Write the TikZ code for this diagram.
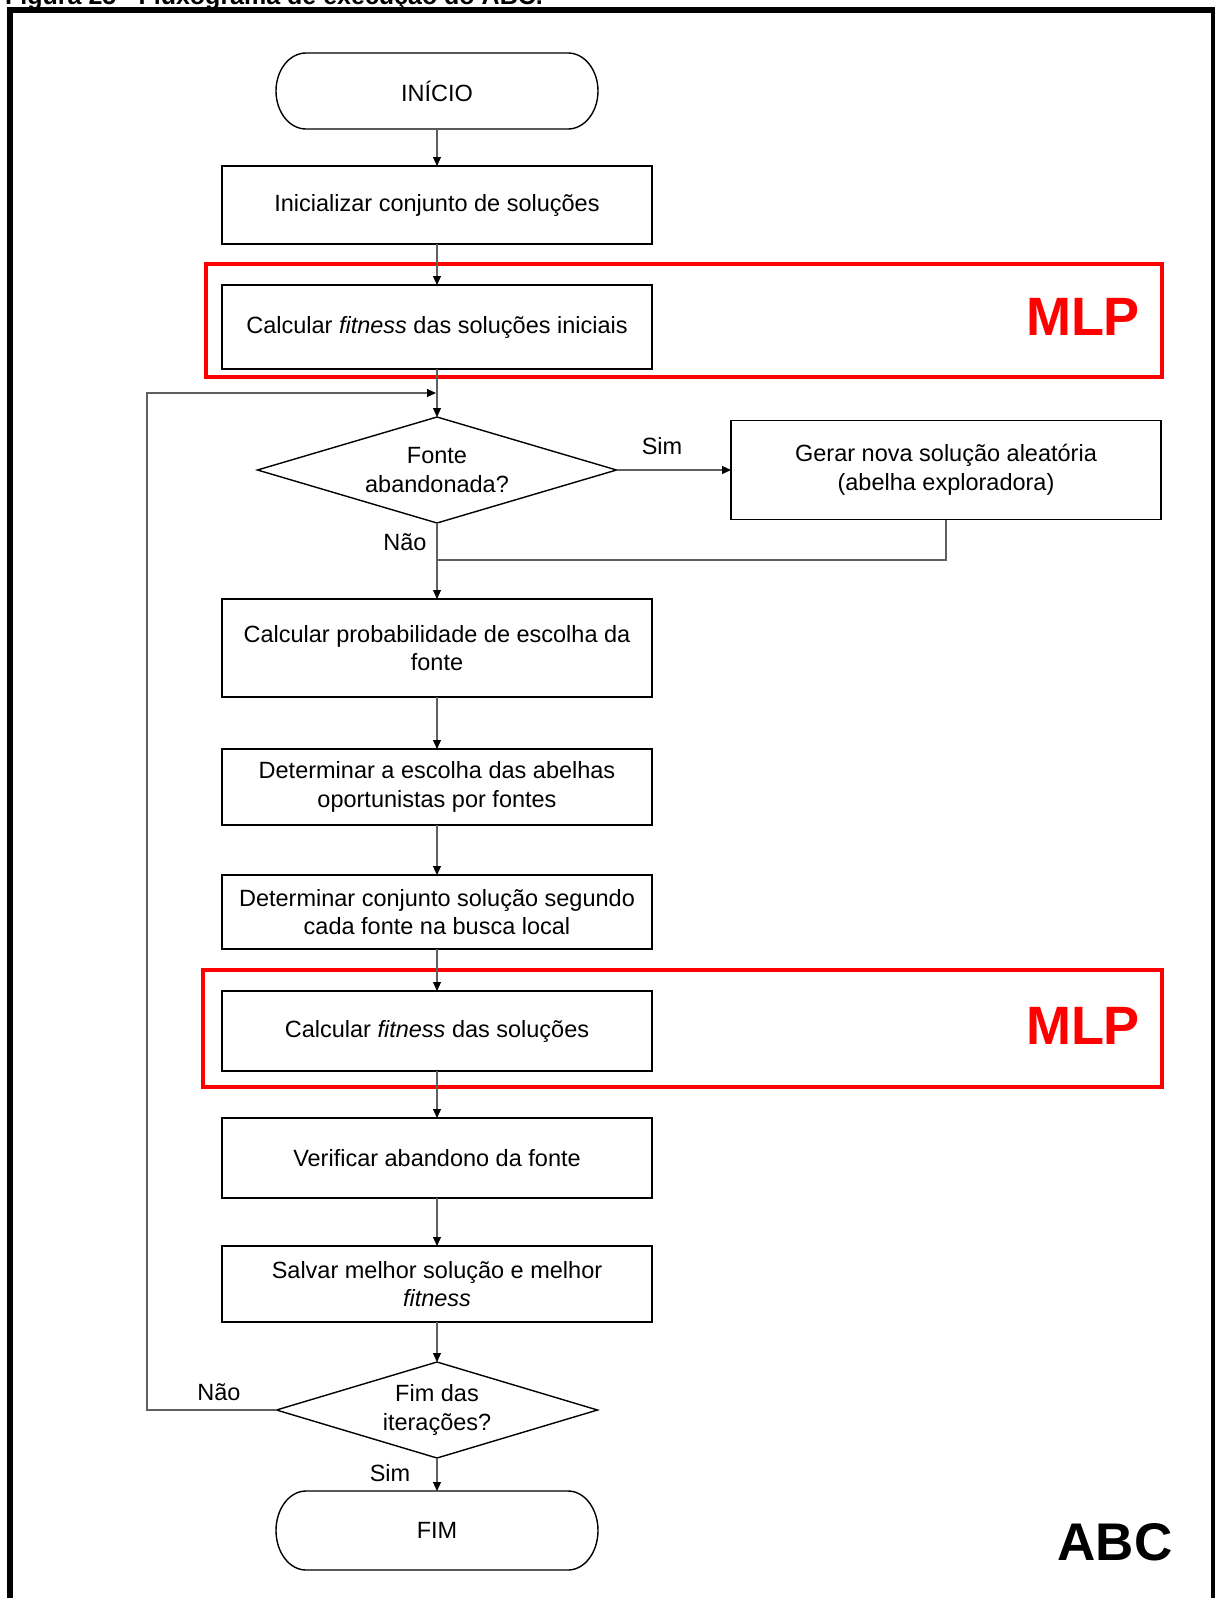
\documentclass[tikz,border=0pt]{standalone}
\usepackage{fontspec}
\setmainfont{Liberation Sans}
\usetikzlibrary{arrows.meta,shapes.geometric}
\definecolor{linegray}{RGB}{95,95,95}
\begin{document}
\begin{tikzpicture}[x=1pt,y=-1pt,
  txt/.style={font=\fontsize{23.5}{28.5}\selectfont, align=center, inner sep=0pt, outer sep=0pt},
  procbox/.style={txt, draw=black, line width=1.4pt, minimum width=430pt},
  termnode/.style={txt, minimum width=322pt},
  termline/.style={draw=black, line width=1.4pt},
  decision/.style={txt, shape=diamond, draw=black, line width=1.4pt, aspect=3.4},
  flow/.style={linegray, line width=1.1pt, -{Triangle[length=9pt,width=8pt,color=black]}},
  plain/.style={linegray, line width=1.1pt},
  lbl/.style={font=\fontsize{23.5}{28.5}\selectfont, inner sep=0pt, anchor=base},
  redframe/.style={draw=red, line width=4pt},
  mlp/.style={font=\fontsize{54}{60}\selectfont\bfseries, text=red, inner sep=0pt},
  bigtag/.style={font=\fontsize{53}{60}\selectfont\bfseries, text=black, inner sep=0pt}]

\useasboundingbox (0,0) rectangle (1215,1598);
\clip (0,0) rectangle (1215,1598);

% caption line above the frame
\node[anchor=base west, font=\fontsize{25}{30}\selectfont\bfseries, inner sep=0pt] (cap) at (5,5)
  {Figura 25 - Fluxograma de execução do ABC.};

% outer frame
\draw[line width=6pt, line join=miter] (10,1610) -- (10,10) -- (1213.5,10) -- (1213.5,1610);

% flowchart nodes
\node[termnode, minimum height=76pt] (inicio) at (437,91) {INÍCIO};
\node[procbox, minimum height=78pt] (init) at (437,205) {Inicializar conjunto de soluções};
\node[procbox, minimum height=84pt] (fit1) at (437,327) {Calcular \textit{fitness} das soluções iniciais};
\node[decision, minimum width=359pt, minimum height=106pt] (d1) at (437,470) {Fonte\\abandonada?};
\node[procbox, minimum height=99pt] (gerar) at (946,470) {Gerar nova solução aleatória\\(abelha exploradora)};
\node[procbox, minimum height=98pt] (prob) at (437,648) {Calcular probabilidade de escolha da\\fonte};
\node[procbox, minimum height=76pt] (esc) at (437,787) {Determinar a escolha das abelhas\\oportunistas por fontes};
\node[procbox, minimum height=74pt] (conj) at (437,912) {Determinar conjunto solução segundo\\cada fonte na busca local};
\node[procbox, minimum height=80pt] (fit2) at (437,1031) {Calcular \textit{fitness} das soluções};
\node[procbox, minimum height=80pt] (verif) at (437,1158) {Verificar abandono da fonte};
\node[procbox, minimum height=76pt] (salvar) at (437,1284) {Salvar melhor solução e melhor\\\textit{fitness}};
\node[decision, minimum width=321pt, minimum height=96pt] (d2) at (437,1410) {Fim das\\iterações?};
\node[termnode, minimum height=79pt] (fim) at (437,1530.5) {FIM};

% terminal outlines with elliptic ends
\draw[termline] ([xshift=30pt]inicio.north west) -- ([xshift=-30pt]inicio.north east)
  arc[start angle=90, end angle=-90, x radius=30pt, y radius=38pt]
  -- ([xshift=30pt]inicio.south west)
  arc[start angle=270, end angle=90, x radius=30pt, y radius=38pt] -- cycle;
\draw[termline] ([xshift=30pt]fim.north west) -- ([xshift=-30pt]fim.north east)
  arc[start angle=90, end angle=-90, x radius=30pt, y radius=39.5pt]
  -- ([xshift=30pt]fim.south west)
  arc[start angle=270, end angle=90, x radius=30pt, y radius=39.5pt] -- cycle;

% MLP highlight frames
\draw[redframe] (206,264) rectangle (1162,377);
\draw[redframe] (203,970) rectangle (1162,1087);
\node[mlp] (mlp1) at (1083,317) {MLP};
\node[mlp] (mlp2) at (1083,1026) {MLP};
\node[bigtag] (abc) at (1115,1542) {ABC};

% connectors
\coordinate (merge) at (437,560);
\coordinate (loopx) at (147,393);
\coordinate (loopin) at (437,393);

\draw[flow] (inicio.south) -- (init.north);
\draw[flow] (init.south) -- (fit1.north);
\draw[flow] (fit1.south) -- (d1.north);
\draw[flow] (d1.east) -- (gerar.west);
\draw[flow] (d1.south) -- (prob.north);
\draw[plain] (gerar.south) |- (merge);
\draw[flow] (prob.south) -- (esc.north);
\draw[flow] (esc.south) -- (conj.north);
\draw[flow] (conj.south) -- (fit2.north);
\draw[flow] (fit2.south) -- (verif.north);
\draw[flow] (verif.south) -- (salvar.north);
\draw[flow] (salvar.south) -- (d2.north);
\draw[flow] (d2.south) -- (fim.north);
\draw[flow, shorten >=1pt] (d2.west) -| (loopx) -- (loopin);

% branch labels
\node[lbl] (sim1) at (662,454) {Sim};
\node[lbl] (nao1) at (405,550) {Não};
\node[lbl] (nao2) at (219,1400) {Não};
\node[lbl] (sim2) at (390,1481) {Sim};
\end{tikzpicture}
\end{document}
